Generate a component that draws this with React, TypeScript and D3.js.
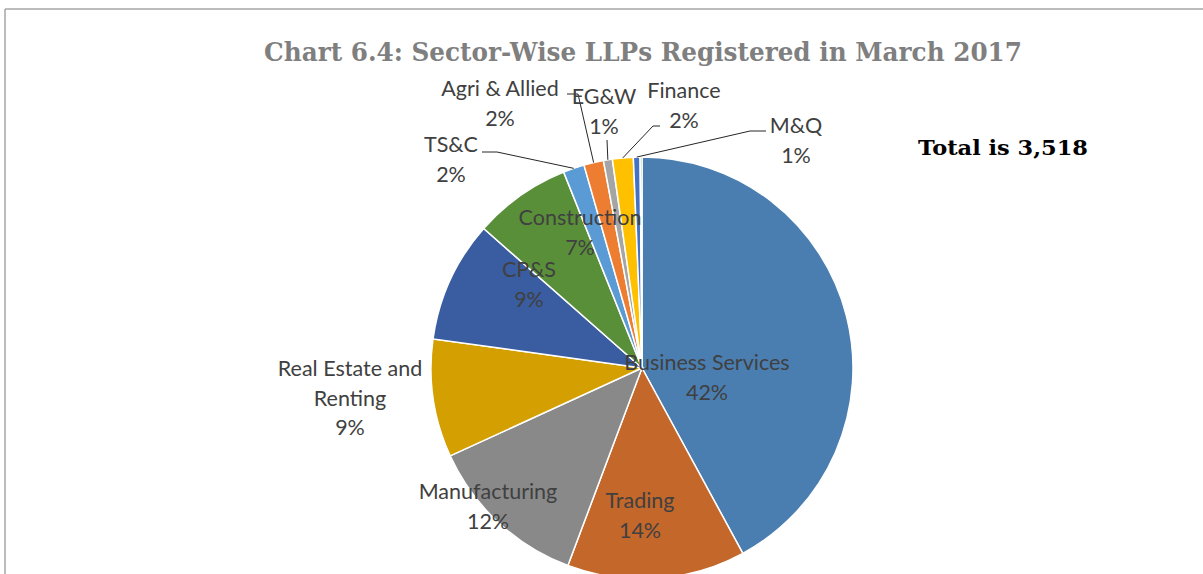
import React from 'react';
import * as d3 from 'd3';

// sector-wise LLP counts, March 2017 (total 3,518)
const sectors = [
  'Business Services', 'Trading', 'Manufacturing', 'Real Estate and Renting', 'CP&S',
  'Construction', 'TS&C', 'Agri & Allied', 'EG&W', 'Finance', 'M&Q', 'Others',
];
const counts = [1480, 480, 438, 318, 327, 262, 57, 53, 24, 56, 18, 5];
const colours = [
  '#4a7eb0', '#c4672b', '#898989', '#d49f00', '#3a5da1', '#5a8f3a',
  '#5b9bd5', '#ed7d31', '#a5a5a5', '#ffc000', '#4472c4', '#70ad47',
];

const W = 1203, H = 574;
const cx = 642, cy = 368, R = 211;

// where each label sits (text lines + optional leader elbow), relative to the page
const labelLayout: Record<string, { x: number; y: number; lines: string[]; leader?: [number, number][] }> = {
  'Business Services': { x: 707, y: 370, lines: ['Business Services'] },
  Trading: { x: 640, y: 508, lines: ['Trading'] },
  Manufacturing: { x: 488, y: 499, lines: ['Manufacturing'] },
  'Real Estate and Renting': { x: 350, y: 376, lines: ['Real Estate and', 'Renting'] },
  'CP&S': { x: 529, y: 277, lines: ['CP&S'] },
  Construction: { x: 580, y: 225, lines: ['Construction'] },
  'TS&C': { x: 451, y: 152, lines: ['TS&C'], leader: [[482, 152], [497, 152]] },
  'Agri & Allied': { x: 500, y: 96, lines: ['Agri & Allied'], leader: [[567, 94], [578, 94]] },
  'EG&W': { x: 604, y: 104, lines: ['EG&W'], leader: [[607, 140]] },
  Finance: { x: 684, y: 98, lines: ['Finance'], leader: [[660, 126], [653, 126]] },
  'M&Q': { x: 796, y: 133, lines: ['M&Q'], leader: [[766, 131], [750, 131]] },
};

export default function App() {
  const total = d3.sum(counts);
  const data = sectors.map((s, i) => ({ name: s, value: counts[i], color: colours[i] }));
  const arcs = d3.pie<any>().sort(null).value((d) => d.value)(data);
  const arcGen = d3.arc<any>().innerRadius(0).outerRadius(R);
  const lineGen = d3.line();
  const lh = 29.5;

  return (
    <svg width={W} height={H} style={{ position: 'fixed', left: 0, top: 0, background: '#fff' }}>
      <line x1={5} y1={9} x2={W} y2={9} stroke="#a6a6a6" strokeWidth={1.5} />
      <line x1={5} y1={9} x2={5} y2={H} stroke="#a6a6a6" strokeWidth={1.5} />
      <text x={643} y={61} textAnchor="middle" fontFamily="'DejaVu Serif', serif" fontWeight="bold"
        fontSize={26} fill="#7f7f7f" textLength={758} lengthAdjust="spacingAndGlyphs">
        Chart 6.4: Sector-Wise LLPs Registered in March 2017
      </text>
      <text x={918} y={155} fontFamily="'DejaVu Serif', serif" fontWeight="bold" fontSize={21}
        fill="#000" textLength={170} lengthAdjust="spacingAndGlyphs">
        Total is {d3.format(',')(total)}
      </text>
      <g transform={`translate(${cx},${cy})`}>
        {arcs.map((a, i) => (
          <path key={i} d={arcGen(a) || ''} fill={a.data.color} stroke="#fff" strokeWidth={1.5} />
        ))}
      </g>
      {arcs.map((a, i) => {
        const lay = labelLayout[a.data.name];
        if (!lay) return null;
        const pct = Math.round((a.data.value / total) * 100) + '%';
        const mid = (a.startAngle + a.endAngle) / 2;
        const edge: [number, number] = [cx + R * Math.sin(mid), cy - R * Math.cos(mid)];
        return (
          <g key={i}>
            {lay.leader && (
              <path d={lineGen([...lay.leader, edge]) || ''} fill="none" stroke="#262626" strokeWidth={1} />
            )}
            <text textAnchor="middle" fontFamily="Lato, 'Open Sans', sans-serif" fontSize={21.5} fill="#404040">
              {[...lay.lines, pct].map((t, k) => (
                <tspan key={k} x={lay.x} y={lay.y + k * lh}>{t}</tspan>
              ))}
            </text>
          </g>
        );
      })}
    </svg>
  );
}
